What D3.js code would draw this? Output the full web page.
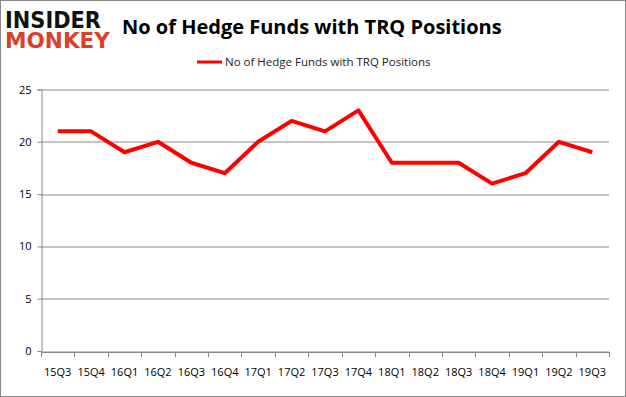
<!DOCTYPE html>
<meta charset="utf-8">
<style>
body { margin: 0; }
text { font-family: "Open Sans", "Noto Sans", sans-serif; }
</style>
<svg width="626" height="397"></svg>
<script src="https://cdn.jsdelivr.net/npm/d3@7/dist/d3.min.js"></script>
<script>

var quarters = ["15Q3","15Q4","16Q1","16Q2","16Q3","16Q4","17Q1","17Q2","17Q3","17Q4","18Q1","18Q2","18Q3","18Q4","19Q1","19Q2","19Q3"];
var funds = [21, 21, 19, 20, 18, 17, 20, 22, 21, 23, 18, 18, 18, 16, 17, 20, 19];
var yTicks = [0, 5, 10, 15, 20, 25];
var seriesName = "No of Hedge Funds with TRQ Positions";

var svg = d3.select("svg").style("background", "white"),
    margin = {top: 89.5, right: 17, bottom: 46, left: 41},
    width = +svg.attr("width") - margin.left - margin.right,
    height = +svg.attr("height") - margin.top - margin.bottom;

// outer frame
svg.append("rect")
    .attr("x", 0.5).attr("y", 0.5)
    .attr("width", 625).attr("height", 396)
    .attr("fill", "none").attr("stroke", "#888");

// logo: one text, two lines, stretched vertically
var logo = svg.append("g").attr("transform", "translate(5,0) scale(1,1.35)")
  .append("text")
    .style("font-family", "DejaVu Sans").style("font-weight", "bold");
logo.append("tspan").attr("x", 0).attr("y", 20.5)
    .style("font-size", "17px")
    .attr("textLength", 96).attr("lengthAdjust", "spacingAndGlyphs")
    .attr("fill", "#111").text("INSIDER");
logo.append("tspan").attr("x", 0).attr("y", 35.5)
    .style("font-size", "16px")
    .attr("textLength", 105).attr("lengthAdjust", "spacingAndGlyphs")
    .attr("fill", "#d9412b").text("MONKEY");

// title
svg.append("text").attr("x", 122).attr("y", 34)
    .style("font-weight", "bold").style("font-size", "20px")
    .attr("fill", "#000").text(seriesName);

var g = svg.append("g").attr("transform", "translate(" + margin.left + "," + margin.top + ")");

var x = d3.scaleBand().domain(quarters).range([0, width]);
var y = d3.scaleLinear().domain([0, 25]).range([height, 0]);

// gridlines
g.selectAll(".grid").data(yTicks).enter().append("line")
    .attr("x1", 0).attr("x2", width)
    .attr("y1", function(d) { return Math.round(y(d)) + 0.5; })
    .attr("y2", function(d) { return Math.round(y(d)) + 0.5; })
    .attr("stroke", "#888");

// y axis
var yAxis = g.append("g")
    .attr("transform", "translate(0.5,0)")
    .call(d3.axisLeft(y).tickValues(yTicks).tickSize(4).tickPadding(6));
yAxis.select(".domain").attr("stroke", "#888");
yAxis.selectAll(".tick line").attr("stroke", "#888");
yAxis.selectAll("text").style("font-size", "11px").attr("fill", "#000")
    .style("font-family", "'Open Sans', sans-serif");

// x axis
var xAxis = g.append("g")
    .attr("transform", "translate(0," + (Math.round(height) + 0.5) + ")")
    .call(d3.axisBottom(x).tickSize(0).tickPadding(16));
xAxis.select(".domain").attr("stroke", "#888");
xAxis.selectAll("text").style("font-size", "11px").attr("fill", "#000")
    .style("font-family", "'Open Sans', sans-serif");
xAxis.selectAll(".sep").data(quarters.concat(["end"])).enter().append("line")
    .attr("x1", function(d, i) { return Math.round(i * x.step()) + 0.5; })
    .attr("x2", function(d, i) { return Math.round(i * x.step()) + 0.5; })
    .attr("y1", 0).attr("y2", 5)
    .attr("stroke", "#888");

// line
var line = d3.line()
    .x(function(d, i) { return x(quarters[i]) + x.bandwidth() / 2; })
    .y(function(d) { return y(d); });

g.append("path")
    .datum(funds)
    .attr("d", line)
    .attr("fill", "none")
    .attr("stroke", "#ff0000")
    .attr("stroke-width", 4)
    .attr("stroke-linejoin", "round");

// legend
var legend = svg.append("g").attr("transform", "translate(197,62)");
legend.append("line").attr("x1", 0).attr("x2", 25).attr("y1", 0).attr("y2", 0)
    .attr("stroke", "#ff0000").attr("stroke-width", 3);
legend.append("text").attr("x", 28).attr("y", 4)
    .style("font-size", "11.5px").attr("fill", "#222").text(seriesName);

</script>
